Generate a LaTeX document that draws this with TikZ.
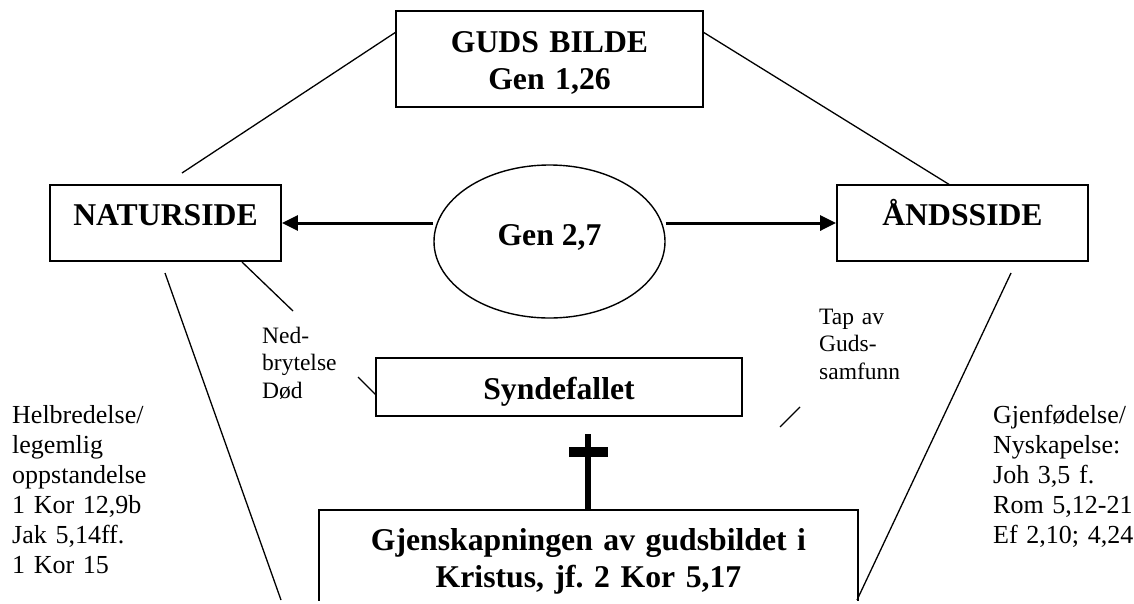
\documentclass[tikz,border=0pt]{standalone}
\usepackage{fontspec}
\setmainfont{Liberation Serif}
\usetikzlibrary{shapes.geometric,arrows.meta}
\frenchspacing
\begin{document}
\begin{tikzpicture}[x=1pt,y=-1pt,
  box/.style={draw,line width=1.8pt,rectangle,inner sep=0pt,font=\fontsize{31.7}{37}\selectfont\bfseries,align=center},
  oval/.style={draw,ellipse,line width=1.4pt,inner sep=0pt,font=\fontsize{31.7}{37}\selectfont\bfseries},
  link/.style={line width=1.3pt},
  arr/.style={line width=3pt,-{Triangle[length=16pt,width=15pt]}},
  note/.style={inner sep=0pt,anchor=base west,align=left,text width=160pt},
  big/.style={font=\fontsize{26}{30}\selectfont},
  small/.style={font=\fontsize{23.5}{27.5}\selectfont}]
\useasboundingbox (0,0) rectangle (1134,603);
\clip (0,0) rectangle (1134,600);
% boxes
\node[box,minimum width=307pt,minimum height=96pt,text width=300pt,text height=28pt,text depth=42pt] (guds) at (549.5,59) {GUDS BILDE\\Gen 1,26};
\node[box,minimum width=231pt,minimum height=76pt,text height=22pt,text depth=18pt] (natur) at (165.5,223) {NATURSIDE};
\node[box,minimum width=251pt,minimum height=76pt,text height=22pt,text depth=18pt] (aand) at (962.5,223) {ÅNDSSIDE};
\node[oval,minimum width=231pt,minimum height=153pt,text height=22pt,text depth=15pt] (ell) at (549.5,241.5) {Gen 2,7};
\node[box,minimum width=366pt,minimum height=58pt,text height=28pt,text depth=4pt] (fall) at (559,387) {Syndefallet};
\node[box,minimum width=539pt,minimum height=130pt,text width=530pt,text height=22pt,text depth=72pt] (gjen) at (588.5,575) {Gjenskapningen av gudsbildet i\\Kristus, jf. 2 Kor 5,17};
% notes
\node[note,big] (helb) at (12,423) {Helbredelse/\\legemlig\\oppstandelse\\1 Kor 12,9b\\Jak 5,14ff.\\1 Kor 15};
\node[note,big] (gjenf) at (993,423) {Gjenfødelse/\\Nyskapelse:\\Joh 3,5 f.\\Rom 5,12-21\\Ef 2,10; 4,24};
\node[note,small] (ned) at (262,343) {Ned-\\brytelse\\Død};
\node[note,small] (tap) at (819,324) {Tap av\\Guds-\\samfunn};
% coordinates for free line ends
\coordinate (gl) at (396,32);
\coordinate (nTop) at (182,173);
\coordinate (gr) at (703,32);
\coordinate (aTop) at (950,185);
\coordinate (nb1) at (242,262);
\coordinate (nb2) at (293,311);
\coordinate (ll1) at (165,273);
\coordinate (ll2) at (281,600);
\coordinate (fl1) at (358,377);
\coordinate (fl2) at (376,395);
\coordinate (fr1) at (780,427);
\coordinate (fr2) at (800,407);
\coordinate (rl1) at (1011,273);
\coordinate (rl2) at (857,600);
% connectors
\draw[link] (gl) -- (nTop);
\draw[link] (gr) -- (aTop);
\draw[link] (nb1) -- (nb2);
\draw[link] (ll1) -- (ll2);
\draw[link] (fl1) -- (fl2);
\draw[link] (fr1) -- (fr2);
\draw[link] (rl1) -- (rl2);
\draw[arr] (ell.west |- natur.east) -- (natur.east);
\draw[arr] (ell.east |- aand.west) -- (aand.west);
% cross
\fill (585,434) rectangle (591,510);
\fill (569,447) rectangle (608,457);
\end{tikzpicture}
\end{document}
